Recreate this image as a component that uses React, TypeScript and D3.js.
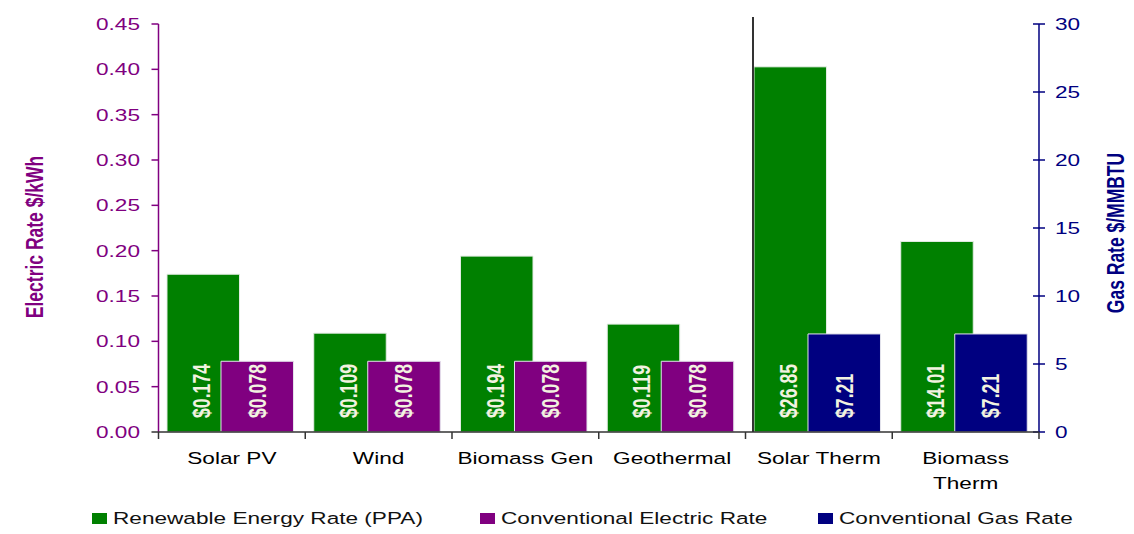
import React from 'react';
import { scaleBand, scaleLinear } from 'd3';

// chart data
const categories = ['Solar PV', 'Wind', 'Biomass Gen', 'Geothermal', 'Solar Therm', 'Biomass Therm'];
const renewableRate = [0.174, 0.109, 0.194, 0.119, 26.85, 14.01];
const conventionalRate = [0.078, 0.078, 0.078, 0.078, 7.21, 7.21];
const rateAxis = ['elec', 'elec', 'elec', 'elec', 'gas', 'gas'];
const electricTicks = [0, 0.05, 0.1, 0.15, 0.2, 0.25, 0.3, 0.35, 0.4, 0.45];
const gasTicks = [0, 5, 10, 15, 20, 25, 30];
const legendItems = ['Renewable Energy Rate (PPA)', 'Conventional Electric Rate', 'Conventional Gas Rate'];

const GREEN = '#008000';
const PURPLE = '#800080';
const NAVY = '#000080';

// the reference is stretched horizontally, so draw in a narrower space and stretch
const S = 1.33;
const W = 1134;
const H = 534;
const vx = (px: number) => px / S;

const left = 158.5;
const right = 1039;
const top = 24;
const bottom = 432;

export default function App() {
  const x = scaleBand<string>().domain(categories).range([left, right]).padding(0);
  const yElec = scaleLinear().domain([0, 0.45]).range([bottom, top]);
  const yGas = scaleLinear().domain([0, 30]).range([bottom, top]);
  const yFor = (i: number) => (rateAxis[i] === 'gas' ? yGas : yElec);
  const fmt = (v: number, i: number) => '$' + (rateAxis[i] === 'gas' ? v.toFixed(2) : v.toFixed(3));

  const barW = 72.5;
  const renOff = 8.5;
  const convOff = 62.5;
  const bounds = categories.map(c => x(c)!).concat([right]);
  const font = 'Liberation Sans, Arial, sans-serif';

  const legendX = [92, 480, 818];

  return (
    <svg
      width={W}
      height={H}
      viewBox={`0 0 ${W / S} ${H}`}
      preserveAspectRatio="none"
      style={{ position: 'absolute', left: 0, top: 0, background: '#fff' }}
      fontFamily={font}
    >
      {/* bars */}
      {categories.map((c, i) => {
        const y = yFor(i);
        const bx = x(c)!;
        const convColor = rateAxis[i] === 'gas' ? NAVY : PURPLE;
        return (
          <g key={c}>
            <rect x={vx(bx + renOff)} y={y(renewableRate[i])} width={vx(barW)} height={bottom - y(renewableRate[i])}
              fill={GREEN} stroke="#e4ece4" strokeWidth={1} vectorEffect="non-scaling-stroke" />
            <rect x={vx(bx + convOff)} y={y(conventionalRate[i])} width={vx(barW)} height={bottom - y(conventionalRate[i])}
              fill={convColor} stroke="#e4e4ec" strokeWidth={1} vectorEffect="non-scaling-stroke" />
          </g>
        );
      })}
      {/* value labels */}
      {categories.map((c, i) => {
        const bx = x(c)!;
        const cx1 = vx(bx + renOff + barW / 2 - 1.5);
        const cx2 = vx(bx + convOff + barW / 2);
        return (
          <g key={c + '-lbl'} fontWeight="bold" fontSize={17.7} fill="#f2f2e0">
            <text transform={`translate(${cx1},418) rotate(-90)`} dominantBaseline="central">{fmt(renewableRate[i], i)}</text>
            <text transform={`translate(${cx2},418) rotate(-90)`} dominantBaseline="central">{fmt(conventionalRate[i], i)}</text>
          </g>
        );
      })}
      {/* divider line */}
      <line x1={vx(x('Solar Therm')! + 7.5)} x2={vx(x('Solar Therm')! + 7.5)} y1={17} y2={bottom}
        stroke="#333" strokeWidth={2} vectorEffect="non-scaling-stroke" />

      {/* left axis */}
      <line x1={vx(left)} x2={vx(left)} y1={top} y2={bottom} stroke={PURPLE} strokeWidth={1.5} vectorEffect="non-scaling-stroke" />
      {electricTicks.map(t => (
        <g key={'e' + t}>
          <line x1={vx(left - 7)} x2={vx(left)} y1={yElec(t)} y2={yElec(t)} stroke={t === 0 ? '#333' : PURPLE} strokeWidth={1.5} vectorEffect="non-scaling-stroke" />
          <text x={vx(140)} y={yElec(t)} textAnchor="end" dominantBaseline="central" fontSize={17} fill={PURPLE}>{t.toFixed(2)}</text>
        </g>
      ))}
      <text transform={`translate(${vx(35)},237) rotate(-90)`} textAnchor="middle" dominantBaseline="central"
        fontSize={17.5} fontWeight="bold" fill={PURPLE}>Electric Rate $/kWh</text>

      {/* right axis */}
      <line x1={vx(right)} x2={vx(right)} y1={top} y2={bottom} stroke={NAVY} strokeWidth={1.5} vectorEffect="non-scaling-stroke" />
      {gasTicks.map(t => (
        <g key={'g' + t}>
          <line x1={vx(right - 6)} x2={vx(right + 6)} y1={yGas(t)} y2={yGas(t)} stroke={NAVY} strokeWidth={1.5} vectorEffect="non-scaling-stroke" />
          <text x={vx(1055)} y={yGas(t)} dominantBaseline="central" fontSize={17} fill={NAVY}>{t}</text>
        </g>
      ))}
      <text transform={`translate(${vx(1116)},233) rotate(-90)`} textAnchor="middle" dominantBaseline="central"
        fontSize={17.5} fontWeight="bold" fill={NAVY}>Gas Rate $/MMBTU</text>

      {/* x axis */}
      <line x1={vx(left)} x2={vx(right)} y1={bottom} y2={bottom} stroke="#333" strokeWidth={1.5} vectorEffect="non-scaling-stroke" />
      {bounds.map((b, i) => (
        <line key={'xt' + i} x1={vx(b)} x2={vx(b)} y1={bottom} y2={bottom + 7} stroke="#333" strokeWidth={1.5} vectorEffect="non-scaling-stroke" />
      ))}
      {categories.map(c => {
        const words = c === 'Biomass Therm' ? ['Biomass', 'Therm'] : [c];
        return (
          <text key={c + '-x'} x={vx(x(c)! + x.bandwidth() / 2)} y={458} textAnchor="middle" dominantBaseline="central" fontSize={17} fill="#000">
            {words.map((w, j) => (
              <tspan key={w} x={vx(x(c)! + x.bandwidth() / 2)} dy={j === 0 ? 0 : 25}>{w}</tspan>
            ))}
          </text>
        );
      })}

      {/* legend */}
      {legendItems.map((l, i) => (
        <g key={l}>
          <rect x={vx(legendX[i])} y={513} width={vx(15)} height={11} fill={[GREEN, PURPLE, NAVY][i]} />
          <text x={vx(legendX[i] + 21)} y={518.5} dominantBaseline="central" fontSize={17} fill="#111">{l}</text>
        </g>
      ))}
    </svg>
  );
}
